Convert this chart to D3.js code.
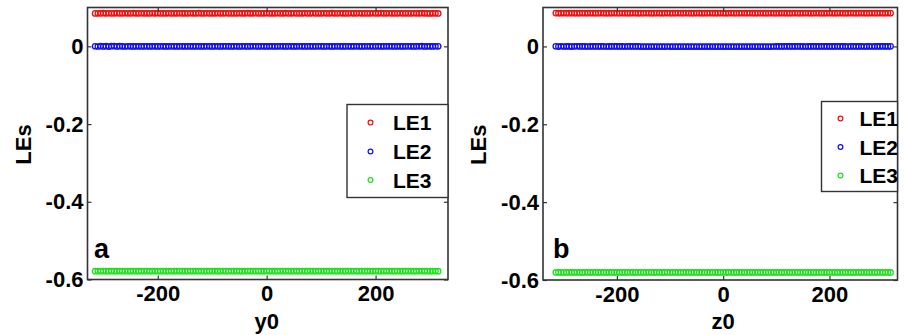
<!DOCTYPE html>
<html>
<head>
<meta charset="utf-8">
<script src="https://cdn.jsdelivr.net/npm/d3@7"></script>
<style>
  body { margin: 0; background: #fff; }
  svg { display: block; font-family: "Liberation Sans", Arial, sans-serif; font-weight: bold; }
</style>
</head>
<body>
<svg id="chart" width="904" height="335"></svg>
<script>
// initial condition values (y0 in panel a, z0 in panel b)
const initVals = [-315,-310,-305,-300,-295,-290,-285,-280,-275,-270,-265,-260,-255,-250,-245,-240,
  -235,-230,-225,-220,-215,-210,-205,-200,-195,-190,-185,-180,-175,-170,-165,-160,
  -155,-150,-145,-140,-135,-130,-125,-120,-115,-110,-105,-100,-95,-90,-85,-80,
  -75,-70,-65,-60,-55,-50,-45,-40,-35,-30,-25,-20,-15,-10,
  -5,0,5,10,15,20,25,30,35,40,45,50,55,60,65,70,
  75,80,85,90,95,100,105,110,115,120,125,130,135,140,145,150,
  155,160,165,170,175,180,185,190,195,200,205,210,215,220,225,230,
  235,240,245,250,255,260,265,270,275,280,285,290,295,300,305,310,315];

// panel a : LEs vs y0
const le1A = [0.0848,0.0851,0.0850,0.0853,0.0849,0.0852,0.0850,0.0851,0.0854,0.0850,0.0849,0.0852,0.0851,0.0850,0.0853,0.0851,
  0.0850,0.0852,0.0849,0.0851,0.0850,0.0852,0.0851,0.0853,0.0850,0.0849,0.0851,0.0852,0.0850,0.0851,0.0850,0.0852,
  0.0851,0.0849,0.0850,0.0852,0.0851,0.0850,0.0853,0.0851,0.0850,0.0852,0.0849,0.0851,0.0850,0.0852,0.0851,0.0850,
  0.0852,0.0851,0.0850,0.0849,0.0851,0.0852,0.0850,0.0851,0.0853,0.0850,0.0851,0.0852,0.0849,0.0850,0.0851,0.0852,
  0.0850,0.0851,0.0849,0.0852,0.0850,0.0851,0.0853,0.0850,0.0851,0.0852,0.0850,0.0849,0.0851,0.0852,0.0850,0.0851,
  0.0852,0.0850,0.0851,0.0849,0.0852,0.0851,0.0850,0.0853,0.0851,0.0850,0.0852,0.0851,0.0849,0.0850,0.0852,0.0851,
  0.0850,0.0852,0.0851,0.0850,0.0849,0.0851,0.0852,0.0850,0.0851,0.0853,0.0850,0.0851,0.0852,0.0850,0.0849,0.0851,
  0.0852,0.0850,0.0851,0.0849,0.0850,0.0852,0.0851,0.0850,0.0853,0.0851,0.0850,0.0848,0.0851,0.0850,0.0847];
const le2A = [0.0003,-0.0004,0.0006,-0.0002,0.0005,-0.0006,0.0004,0.0007,-0.0003,0.0005,0.0002,-0.0004,0.0003,0.0001,-0.0002,0.0002,
  0.0001,-0.0001,0.0002,0.0000,-0.0002,0.0001,0.0002,-0.0001,0.0000,0.0001,-0.0002,0.0001,0.0000,0.0002,-0.0001,0.0000,
  0.0001,-0.0001,0.0000,0.0002,-0.0001,0.0001,0.0000,-0.0002,0.0001,0.0000,0.0001,-0.0001,0.0002,0.0000,-0.0001,0.0001,
  0.0000,0.0001,-0.0001,0.0000,0.0002,-0.0001,0.0001,0.0000,-0.0001,0.0001,0.0000,0.0002,-0.0001,0.0000,0.0001,-0.0002,
  0.0001,0.0000,-0.0001,0.0002,0.0000,0.0001,-0.0001,0.0000,0.0001,-0.0002,0.0001,0.0000,0.0002,-0.0001,0.0000,0.0001,
  -0.0001,0.0000,0.0001,0.0002,-0.0001,0.0000,0.0001,-0.0001,0.0000,0.0002,0.0001,-0.0001,0.0000,0.0001,-0.0002,0.0001,
  0.0000,0.0001,-0.0001,0.0000,0.0002,0.0001,-0.0001,0.0000,0.0001,-0.0001,0.0000,0.0002,0.0001,0.0000,-0.0001,0.0001,
  0.0000,-0.0001,0.0001,0.0000,0.0002,-0.0001,0.0000,0.0001,0.0004,-0.0003,0.0002,0.0001,-0.0002,0.0003,0.0001];
const le3A = [-0.5787,-0.5784,-0.5786,-0.5783,-0.5785,-0.5787,-0.5784,-0.5786,-0.5785,-0.5783,-0.5786,-0.5784,-0.5785,-0.5787,-0.5784,-0.5785,
  -0.5786,-0.5784,-0.5785,-0.5783,-0.5786,-0.5785,-0.5784,-0.5786,-0.5785,-0.5784,-0.5785,-0.5786,-0.5784,-0.5785,-0.5783,-0.5785,
  -0.5784,-0.5786,-0.5785,-0.5784,-0.5785,-0.5783,-0.5786,-0.5784,-0.5785,-0.5786,-0.5784,-0.5785,-0.5784,-0.5786,-0.5785,-0.5784,
  -0.5785,-0.5786,-0.5784,-0.5785,-0.5783,-0.5785,-0.5786,-0.5784,-0.5785,-0.5784,-0.5786,-0.5785,-0.5784,-0.5785,-0.5786,-0.5784,
  -0.5785,-0.5784,-0.5786,-0.5785,-0.5783,-0.5785,-0.5784,-0.5786,-0.5785,-0.5784,-0.5786,-0.5785,-0.5784,-0.5785,-0.5786,-0.5784,
  -0.5785,-0.5786,-0.5784,-0.5785,-0.5784,-0.5786,-0.5785,-0.5783,-0.5785,-0.5786,-0.5784,-0.5785,-0.5786,-0.5784,-0.5785,-0.5784,
  -0.5786,-0.5785,-0.5784,-0.5785,-0.5786,-0.5784,-0.5785,-0.5784,-0.5786,-0.5785,-0.5783,-0.5785,-0.5784,-0.5786,-0.5785,-0.5784,
  -0.5785,-0.5786,-0.5784,-0.5785,-0.5784,-0.5786,-0.5785,-0.5784,-0.5783,-0.5786,-0.5784,-0.5785,-0.5787,-0.5784,-0.5786];

// panel b : LEs vs z0
const le1B = [0.0856,0.0853,0.0855,0.0857,0.0854,0.0855,0.0856,0.0854,0.0855,0.0853,0.0856,0.0855,0.0854,0.0856,0.0855,0.0854,
  0.0855,0.0856,0.0854,0.0855,0.0853,0.0855,0.0856,0.0854,0.0855,0.0856,0.0854,0.0855,0.0854,0.0856,0.0855,0.0853,
  0.0855,0.0854,0.0856,0.0855,0.0854,0.0855,0.0856,0.0854,0.0855,0.0853,0.0856,0.0855,0.0854,0.0855,0.0856,0.0854,
  0.0855,0.0856,0.0854,0.0855,0.0854,0.0856,0.0855,0.0853,0.0855,0.0854,0.0856,0.0855,0.0854,0.0855,0.0856,0.0854,
  0.0855,0.0854,0.0856,0.0855,0.0853,0.0855,0.0856,0.0854,0.0855,0.0856,0.0854,0.0855,0.0854,0.0856,0.0855,0.0854,
  0.0855,0.0856,0.0854,0.0855,0.0854,0.0856,0.0855,0.0853,0.0855,0.0854,0.0856,0.0855,0.0854,0.0855,0.0856,0.0854,
  0.0855,0.0854,0.0856,0.0855,0.0854,0.0855,0.0853,0.0856,0.0855,0.0854,0.0855,0.0856,0.0854,0.0855,0.0854,0.0856,
  0.0855,0.0854,0.0855,0.0856,0.0854,0.0855,0.0853,0.0856,0.0855,0.0854,0.0856,0.0855,0.0854,0.0856,0.0855];
const le2B = [0.0004,-0.0003,0.0005,-0.0002,0.0003,0.0001,-0.0003,0.0002,0.0004,-0.0001,0.0002,0.0001,-0.0002,0.0003,0.0000,0.0002,
  -0.0001,0.0001,0.0002,-0.0002,0.0001,0.0000,0.0002,-0.0001,0.0001,0.0000,-0.0002,0.0001,0.0002,-0.0001,0.0000,0.0001,
  -0.0003,-0.0004,-0.0003,-0.0005,-0.0004,-0.0003,-0.0004,-0.0005,-0.0003,-0.0004,-0.0002,-0.0003,-0.0004,-0.0003,-0.0005,-0.0004,
  -0.0003,-0.0004,-0.0003,-0.0005,-0.0004,-0.0003,-0.0004,-0.0003,-0.0005,-0.0004,-0.0003,-0.0004,-0.0005,-0.0003,-0.0004,-0.0003,
  -0.0004,-0.0005,-0.0003,-0.0004,-0.0003,-0.0005,-0.0004,-0.0003,-0.0004,-0.0003,-0.0005,-0.0004,-0.0003,-0.0004,-0.0005,-0.0003,
  -0.0004,-0.0003,-0.0002,-0.0001,0.0000,0.0001,-0.0001,0.0002,0.0000,0.0001,-0.0001,0.0002,0.0001,0.0000,-0.0002,0.0001,
  0.0000,0.0002,-0.0001,0.0001,0.0000,0.0002,-0.0001,0.0001,0.0000,-0.0001,0.0002,0.0001,0.0000,0.0001,-0.0002,0.0001,
  0.0002,-0.0001,0.0000,0.0003,-0.0002,0.0001,0.0003,-0.0002,0.0002,0.0000,0.0003,-0.0001,0.0002,0.0001,0.0002];
const le3B = [-0.5806,-0.5804,-0.5805,-0.5807,-0.5805,-0.5804,-0.5806,-0.5805,-0.5804,-0.5805,-0.5806,-0.5805,-0.5804,-0.5806,-0.5805,-0.5804,
  -0.5805,-0.5806,-0.5804,-0.5805,-0.5806,-0.5804,-0.5805,-0.5806,-0.5805,-0.5804,-0.5805,-0.5806,-0.5804,-0.5805,-0.5806,-0.5805,
  -0.5804,-0.5805,-0.5806,-0.5804,-0.5805,-0.5806,-0.5805,-0.5804,-0.5806,-0.5805,-0.5804,-0.5805,-0.5806,-0.5804,-0.5805,-0.5806,
  -0.5805,-0.5804,-0.5805,-0.5806,-0.5804,-0.5805,-0.5806,-0.5805,-0.5804,-0.5806,-0.5805,-0.5804,-0.5805,-0.5806,-0.5805,-0.5804,
  -0.5805,-0.5806,-0.5804,-0.5805,-0.5806,-0.5805,-0.5804,-0.5806,-0.5805,-0.5804,-0.5805,-0.5806,-0.5804,-0.5805,-0.5806,-0.5805,
  -0.5804,-0.5805,-0.5806,-0.5804,-0.5805,-0.5806,-0.5805,-0.5804,-0.5806,-0.5805,-0.5804,-0.5805,-0.5806,-0.5804,-0.5805,-0.5806,
  -0.5805,-0.5804,-0.5805,-0.5806,-0.5804,-0.5805,-0.5806,-0.5805,-0.5804,-0.5806,-0.5805,-0.5804,-0.5805,-0.5806,-0.5804,-0.5805,
  -0.5806,-0.5805,-0.5804,-0.5805,-0.5806,-0.5804,-0.5805,-0.5806,-0.5805,-0.5804,-0.5806,-0.5805,-0.5804,-0.5805,-0.5806];

const seriesNames = ['LE1', 'LE2', 'LE3'];
const seriesColors = ['#f01010', '#1010f0', '#20e020'];
const xTicks = [-200, 0, 200];
const yTicks = [-0.6, -0.4, -0.2, 0];

const svg = d3.select('#chart');
const frameColor = '#333';

// layout of each panel
const panels = [
  { tag: 'a', xLabel: 'y0', series: [le1A, le2A, le3A],
    left: 87.5, right: 448, top: 7.5, bottom: 279.5, xDomain: [-329, 333],
    legend: { x: 347, y: 104.5, w: 101, h: 93, mx: 23.5, tx: 46, rows: [18, 47, 75.5] },
    yLabelX: 31, tagX: 94 },
  { tag: 'b', xLabel: 'z0', series: [le1B, le2B, le3B],
    left: 543, right: 897.5, top: 7.5, bottom: 280, xDomain: [-339, 328],
    legend: { x: 821.5, y: 101.5, w: 76, h: 90, mx: 19, tx: 38, rows: [17, 45.5, 74] },
    yLabelX: 486, tagX: 553 }
];

function drawPanel(p) {
  const g = svg.append('g');
  const x = d3.scaleLinear().domain(p.xDomain).range([p.left, p.right]);
  const y = d3.scaleLinear().domain([-0.6, 0.1]).range([p.bottom, p.top]);

  // markers first, frame/axes on top
  p.series.forEach((vals, i) => {
    const pts = initVals.map((v, k) => [v, vals[k]]).filter(d => d[1] !== undefined);
    g.append('g').selectAll('circle').data(pts).enter().append('circle')
      .attr('cx', d => x(d[0]))
      .attr('cy', d => y(d[1]))
      .attr('r', 2.7)
      .attr('fill', 'none')
      .attr('stroke', seriesColors[i])
      .attr('stroke-width', 1.3);
  });

  // inward ticks on all four sides (matlab box)
  const styleAxis = sel => {
    sel.select('.domain').remove();
    sel.selectAll('.tick line').attr('stroke', frameColor).attr('stroke-width', 1.2);
    sel.selectAll('.tick text').attr('fill', '#000').style('font-size', '22px')
      .style('font-family', '"Liberation Sans", Arial, sans-serif').style('font-weight', 'bold');
  };
  g.append('g').attr('transform', `translate(0,${p.bottom})`)
    .call(d3.axisBottom(x).tickValues(xTicks).tickSize(-4).tickPadding(6).tickFormat(d => String(d)))
    .call(styleAxis);
  g.append('g').attr('transform', `translate(0,${p.top})`)
    .call(d3.axisTop(x).tickValues(xTicks).tickSize(-4).tickFormat(''))
    .call(styleAxis);
  g.append('g').attr('transform', `translate(${p.left},0)`)
    .call(d3.axisLeft(y).tickValues(yTicks).tickSize(-4).tickPadding(4)
      .tickFormat(d => d === 0 ? '0' : d.toFixed(1)))
    .call(styleAxis);
  g.append('g').attr('transform', `translate(${p.right},0)`)
    .call(d3.axisRight(y).tickValues(yTicks).tickSize(-4).tickFormat(''))
    .call(styleAxis);

  g.append('rect')
    .attr('x', p.left).attr('y', p.top)
    .attr('width', p.right - p.left).attr('height', p.bottom - p.top)
    .attr('fill', 'none').attr('stroke', frameColor).attr('stroke-width', 1.6);

  // axis titles
  g.append('text')
    .attr('transform', `translate(${p.yLabelX},${(p.top + p.bottom) / 2 + 1}) rotate(-90)`)
    .attr('text-anchor', 'middle').style('font-size', '22px').text('LEs');
  g.append('text')
    .attr('x', x(0)).attr('y', 329)
    .attr('text-anchor', 'middle').style('font-size', '22px').text(p.xLabel);

  // panel tag
  g.append('text').attr('x', p.tagX).attr('y', 258)
    .style('font-size', '27px').text(p.tag);

  // legend
  const L = p.legend;
  const lg = g.append('g').attr('transform', `translate(${L.x},${L.y})`);
  lg.append('rect').attr('width', L.w).attr('height', L.h)
    .attr('fill', '#fff').attr('stroke', frameColor).attr('stroke-width', 1.4);
  seriesNames.forEach((name, i) => {
    lg.append('circle').attr('cx', L.mx).attr('cy', L.rows[i])
      .attr('r', 2.4).attr('fill', 'none')
      .attr('stroke', seriesColors[i]).attr('stroke-width', 1.2);
    lg.append('text').attr('x', L.tx).attr('y', L.rows[i] + 7.5)
      .style('font-size', '21px').text(name);
  });
}

panels.forEach(drawPanel);
</script>
</body>
</html>
